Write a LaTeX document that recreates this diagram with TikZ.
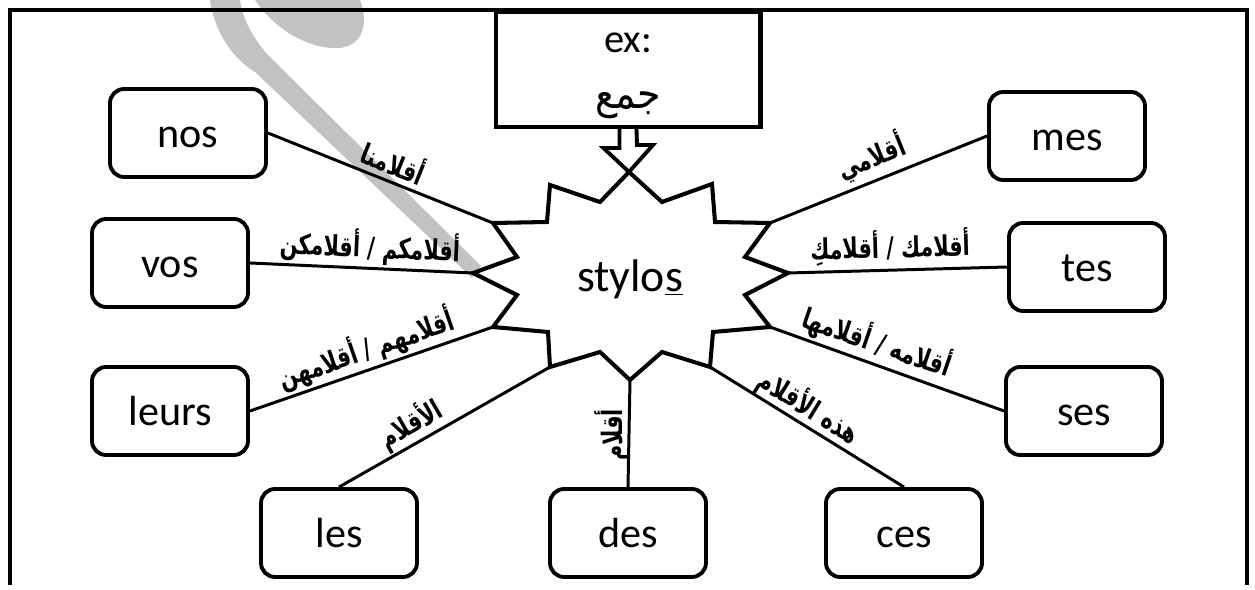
\documentclass[tikz,border=0pt]{standalone}
\usepackage{fontspec}
\setmainfont{Carlito}
\newfontfamily\arfont[Script=Arabic, FakeStretch=0.74]{DejaVu Sans}
\newfontfamily\arplain[Script=Arabic, FakeStretch=0.9]{DejaVu Sans}
\TeXXeTstate=1
\begin{document}
\begin{tikzpicture}[x=0.02cm,y=-0.02cm,
  wbox/.style={draw, line width=2.2pt, rounded corners=8pt, minimum width=3.12cm, minimum height=1.76cm, inner sep=0pt, text height=17pt, text depth=0pt, font=\fontsize{24}{28}\selectfont},
  conn/.style={line width=1.7pt},
  arlbl/.style={inner sep=0pt, font=\arfont\bfseries\fontsize{16}{18}\selectfont},
  thick line/.style={line width=2.3pt, line join=miter}]
\useasboundingbox (0,0) rectangle (1255,590);
% watermark
\fill[gray!48] (210,0) .. controls (215,35) and (235,60) .. (255,72) -- (472,278) -- (481,266) -- (268,55) .. controls (250,35) and (242,15) .. (240,0) -- cycle;
\fill[gray!48] (255,0) .. controls (275,30) and (310,50) .. (340,48) .. controls (365,45) and (368,20) .. (360,0) -- cycle;
% frame
\draw[thick line] (10,585) -- (10,10) -- (1247,10) -- (1247,585);
% example box
\node[draw, line width=2.3pt, minimum width=5.3cm, minimum height=2.3cm, anchor=north, inner sep=0pt] (exbox) at (628,10) {};
\node[font=\fontsize{23}{27}\selectfont, inner sep=0pt] (extxt) at (628,43) {ex:};
\node[font=\arplain\fontsize{24}{28}\selectfont, inner sep=0pt] (jam) at (628,105) {\beginR جمع\endR};
% star
\coordinate (sN) at (629,172);
\coordinate (sNE) at (712,184);
\coordinate (sENE) at (770,223);
\coordinate (sE) at (788,273);
\coordinate (sESE) at (770,327);
\coordinate (sSE) at (710,367);
\coordinate (sS) at (630,380);
\coordinate (sSW) at (550,367);
\coordinate (sWSW) at (493,327);
\coordinate (sW) at (473,273);
\coordinate (sWNW) at (493,223);
\coordinate (sNW) at (550,185);
\draw[thick line, fill=white] (sN) -- (662,202) -- (sNE) -- (715,222) -- (sENE) -- (745,257) -- (sE) -- (745,295) -- (sESE) -- (713,332) -- (sSE) -- (662,352) -- (sS) -- (600,352) -- (sSW) -- (548,332) -- (sWSW) -- (517,295) -- (sW) -- (517,257) -- (sWNW) -- (547,222) -- (sNW) -- (600,202) -- cycle;
\node[font=\fontsize{26}{30}\selectfont, inner sep=0pt, text height=19pt, text depth=0pt] (stylos) at (630,275) {stylo\underline{s}};
% arrow from example box
\draw[line width=2.2pt, line join=miter] ([xshift=-0.17cm]exbox.south) -- ++(0,19) -- ++(-16,0) -- (sN) -- (653,145) -- ++(-16,0) -- ([xshift=0.17cm]exbox.south);
% boxes
\node[wbox] (nos) at (188,133) {nos};
\node[wbox] (vos) at (170,263) {vos};
\node[wbox] (leurs) at (170,411) {leurs};
\node[wbox] (les) at (339,533) {les};
\node[wbox] (des) at (628,533) {des};
\node[wbox] (ces) at (904,533) {ces};
\node[wbox] (ses) at (1084,411) {ses};
\node[wbox] (tes) at (1087,267) {tes};
\node[wbox] (mes) at (1067,136) {mes};
% connectors
\draw[conn] (nos.east) -- (sWNW);
\draw[conn] (vos.east) -- (sW);
\draw[conn] (leurs.east) -- (sWSW);
\draw[conn] (les.north) -- (sSW);
\draw[conn] (des.north) -- (sS);
\draw[conn] (ces.north) -- (sSE);
\draw[conn] (ses.west) -- (sESE);
\draw[conn] (tes.west) -- (sE);
\draw[conn] (mes.west) -- (sENE);
% labels
\node[arlbl, rotate=-22] (lnos) at (394,161) {\beginR أقلامنا\endR};
\node[arlbl, rotate=-2.6] (lvos) at (370,247) {\beginR أقلامكم / أقلامكن\endR};
\node[arlbl, rotate=19] (lleurs) at (366,349) {\beginR أقلامهم / أقلامهن\endR};
\node[arlbl, rotate=30] (lles) at (411,424) {\beginR الأقلام\endR};
\node[arlbl, rotate=90] (ldes) at (612,435) {\beginR أقلام\endR};
\node[arlbl, rotate=-31.6] (lces) at (809,407) {\beginR هذه الأقلام\endR};
\node[arlbl, rotate=-19] (lses) at (877,342) {\beginR أقلامه / أقلامها\endR};
\node[arlbl, rotate=1.6] (ltes) at (890,247) {\beginR أقلامك / أقلامكِ\endR};
\node[arlbl, rotate=22] (lmes) at (871,157) {\beginR أقلامي\endR};
\end{tikzpicture}
\end{document}
